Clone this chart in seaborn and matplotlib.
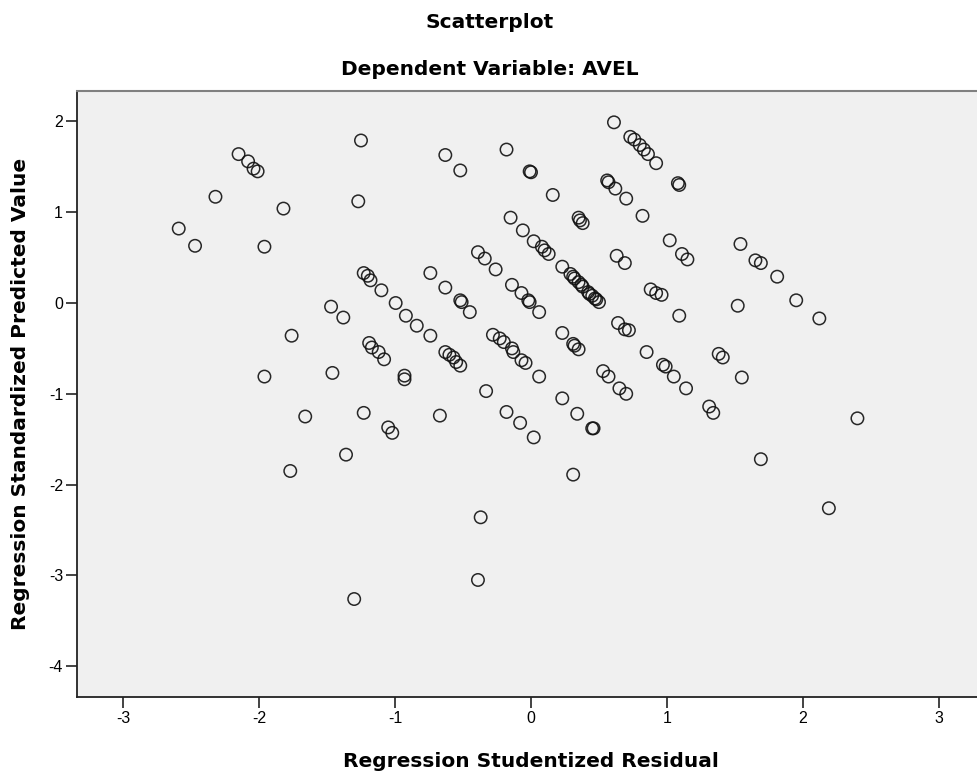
import matplotlib
matplotlib.use("Agg")
import matplotlib.pyplot as plt
from matplotlib import font_manager
import seaborn as sns
import pandas as pd

# Regression Studentized Residual (x) and Regression Standardized Predicted Value (y)
resid = [
    -1.25, -2.15, -2.08, -2.04, -2.01, -2.32, -1.27, -1.82, -2.59, -2.47, -1.96,
    -1.23, -1.20, -1.18, -1.10, -0.995, -1.47, -1.38, -1.76, -1.19, -1.17, -1.12,
    -1.08, -1.96, -1.46, -0.93, -0.93, -1.66, -1.23, -1.05, -1.02, -1.36, -1.77, -1.30,
    0.61, 0.73, 0.76, 0.80, 0.83, 0.86, 0.92, -0.18, -0.63, -0.52, -0.01, 0.00,
    1.08, 1.09, 0.56, 0.57, 0.62, 0.70, 0.16, 0.82, 0.35, 0.36, 0.38, -0.15, -0.06,
    0.02, 0.08, 0.10, 0.13, 1.02, 1.11, 1.15, 0.63, 0.69, -0.39, -0.34, -0.26, 0.23,
    0.29, 0.31, 0.32, 0.35, 0.37, 0.38, 0.42, 0.43, 0.45, 0.47, 0.48, 0.50,
    -0.74, -0.63, -0.52, -0.51, -0.45, -0.92, -0.84, -0.74,
    -0.14, -0.07, -0.02, -0.01, 0.06, 0.88, 0.92, 0.96, 1.09, 0.64, 0.69, 0.72,
    -0.28, -0.23, -0.20, -0.14, -0.13, -0.07, -0.04, 0.06, 0.23, 0.31, 0.32, 0.35,
    -0.63, -0.60, -0.57, -0.55, -0.52, 0.85, 0.97, 0.99, 1.05, 1.14,
    0.53, 0.57, 0.65, 0.70, -0.33, 0.23,
    1.54, 1.65, 1.69, 1.81, 1.95, 2.12, 1.52, 1.38, 1.41, 1.55,
    -0.67, -0.18, -0.08, 0.02, 0.34, 0.45, 0.46, 1.31, 1.34, 0.31, -0.37, -0.39,
    2.40, 1.69, 2.19,
]
predicted = [
    1.79, 1.64, 1.56, 1.48, 1.45, 1.17, 1.12, 1.04, 0.82, 0.63, 0.62,
    0.33, 0.30, 0.25, 0.14, 0.00, -0.04, -0.16, -0.36, -0.44, -0.49, -0.54,
    -0.62, -0.81, -0.77, -0.80, -0.84, -1.25, -1.21, -1.37, -1.43, -1.67, -1.85, -3.26,
    1.99, 1.83, 1.80, 1.74, 1.69, 1.64, 1.54, 1.69, 1.63, 1.46, 1.45, 1.44,
    1.32, 1.30, 1.35, 1.33, 1.26, 1.15, 1.19, 0.96, 0.94, 0.91, 0.88, 0.94, 0.80,
    0.68, 0.62, 0.58, 0.54, 0.69, 0.54, 0.48, 0.52, 0.44, 0.56, 0.49, 0.37, 0.40,
    0.32, 0.29, 0.27, 0.23, 0.20, 0.18, 0.12, 0.10, 0.08, 0.05, 0.04, 0.01,
    0.33, 0.17, 0.03, 0.01, -0.10, -0.14, -0.25, -0.36,
    0.20, 0.11, 0.03, 0.01, -0.10, 0.15, 0.11, 0.09, -0.14, -0.22, -0.29, -0.30,
    -0.35, -0.39, -0.43, -0.50, -0.54, -0.63, -0.66, -0.81, -0.33, -0.45, -0.47, -0.51,
    -0.54, -0.57, -0.60, -0.65, -0.69, -0.54, -0.68, -0.70, -0.81, -0.94,
    -0.75, -0.81, -0.94, -1.00, -0.97, -1.05,
    0.65, 0.47, 0.44, 0.29, 0.03, -0.17, -0.03, -0.56, -0.60, -0.82,
    -1.24, -1.20, -1.32, -1.48, -1.22, -1.38, -1.38, -1.14, -1.21, -1.89, -2.36, -3.05,
    -1.27, -1.72, -2.26,
]
x_ticks = [-3, -2, -1, 0, 1, 2, 3]
y_ticks = [2, 1, 0, -1, -2, -3, -4]

title_main = "Scatterplot"
title_sub = "Dependent Variable: AVEL"
x_label = "Regression Studentized Residual"
y_label = "Regression Standardized Predicted Value"

df = pd.DataFrame({"resid": resid, "pred": predicted})

sns.set_style("white")
plt.rcParams["font.family"] = ["Liberation Sans", "DejaVu Sans"]
plt.rcParams["text.color"] = "black"

available = {f.name for f in font_manager.fontManager.ttflist}
tick_family = "Liberation Sans Narrow" if "Liberation Sans Narrow" in available else "Liberation Sans"
tick_size = 12.5 if tick_family == "Liberation Sans Narrow" else 11.5
head_family = ["DejaVu Sans"]

W, H = 978, 773
fig = plt.figure(figsize=(W / 100, H / 100), dpi=100)
ax = fig.add_axes([77 / W, (H - 697) / H, 908 / W, 606 / H])
ax.set_facecolor("#f0f0f0")

sns.scatterplot(data=df, x="resid", y="pred", ax=ax, s=80, facecolor="none",
                edgecolor="#111111", linewidth=1.1, marker="o", alpha=0.9)

ax.set_xlim(-3.338, 3.338)
ax.set_ylim(-4.339, 2.335)
ax.set_xticks(x_ticks)
ax.set_yticks(y_ticks)
ax.set_xticklabels([str(t) for t in x_ticks], family=tick_family, fontsize=tick_size)
ax.set_yticklabels([str(t) for t in y_ticks], family=tick_family, fontsize=tick_size)
ax.tick_params(axis="both", direction="out", length=8, width=1.2, color="#222222",
               labelcolor="black", pad=2, bottom=True, left=True)

for side in ["left", "bottom"]:
    ax.spines[side].set_color("#222222")
    ax.spines[side].set_linewidth(1.3)
ax.spines["top"].set_color("#808080")
ax.spines["top"].set_linewidth(1.5)
ax.spines["right"].set_color("#808080")

ax.set_xlabel("")
ax.set_ylabel("")

fig.text(531 / W, 1 - 767 / H, x_label, ha="center", va="baseline", color="black",
         fontsize=14.5, fontweight="bold", family=head_family)
fig.text(21 / W, 1 - 394 / H, y_label, ha="center", va="center", rotation=90,
         color="black", fontsize=14.5, fontweight="bold", family=head_family)
fig.text(490 / W, 1 - 28 / H, title_main, ha="center", va="baseline", color="black",
         fontsize=14.5, fontweight="bold", family=head_family)
fig.text(490 / W, 1 - 75 / H, title_sub, ha="center", va="baseline", color="black",
         fontsize=14.5, fontweight="bold", family=head_family)

fig.savefig("out.png", dpi=100, facecolor="white")
